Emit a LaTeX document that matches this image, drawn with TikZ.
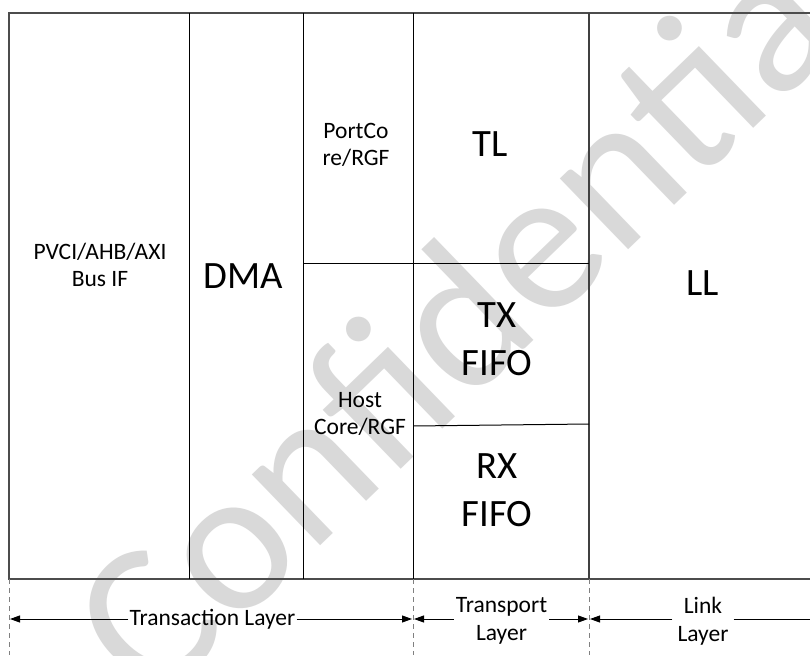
\documentclass[tikz,border=0pt]{standalone}
\usepackage{fontspec}
\setmainfont{Carlito}
\usetikzlibrary{arrows.meta}
\begin{document}
\begin{tikzpicture}[x=1pt,y=-1pt,
  inner/.style={line width=1pt,black},
  outer/.style={line width=1.4pt,black!70},
  mid/.style={line width=1.6pt,black!75},
  dashline/.style={line width=1pt,black!50,dash pattern=on 5pt off 4pt},
  arr/.style={line width=0.9pt,black,-{Triangle[length=10pt,width=7pt]}},
  sm/.style={font=\fontsize{23.5}{27.5}\selectfont,align=center,inner sep=0pt},
  lg/.style={font=\fontsize{38.7}{48}\selectfont,align=center,inner sep=0pt},
  lab/.style={font=\fontsize{23.5}{27.5}\selectfont,align=center,inner ysep=0pt}]
\useasboundingbox (0,0) rectangle (810,655);
\fill[white] (0,0) rectangle (810,655);
% watermark
\node[rotate=44,anchor=base,text=black!15,font=\fontsize{206}{206}\selectfont,inner sep=0pt] (wm) at (518,356) {Confidential};
% frame and columns
\draw[outer] (830,13) -- (9,13) -- (9,579) -- (830,579);
\draw[inner] (189,13) -- (189,579);
\draw[inner] (303,13) -- (303,579);
\draw[inner] (413,13) -- (413,579);
\draw[mid] (589,13) -- (589,579);
\draw[inner] (303,263) -- (589,263);
\draw[inner] (413,426) -- (589,424);
% dashed extensions
\draw[dashline] (9,579) -- (9,655);
\draw[dashline] (413,579) -- (413,655);
\draw[dashline] (589,579) -- (589,655);
% block labels
\node[sm] (pvci) at (100,265) {PVCI/AHB/AXI\\Bus IF};
\node[lg] (dma) at (243,276) {DMA};
\node[sm] (port) at (356,145) {PortCo\\re/RGF};
\node[lg] (tl) at (490,144) {TL};
\node[lg] (tx) at (497,339) {TX\\FIFO};
\node[lg] (rx) at (497,490) {RX\\FIFO};
\node[sm] (host) at (360,414) {Host\\Core/RGF};
\node[lg] (ll) at (703,283) {LL};
% layer arrows
\coordinate (a0) at (10,619);
\coordinate (a1) at (412,619);
\coordinate (b0) at (414,619);
\coordinate (b1) at (588,619);
\coordinate (c0) at (590,619);
\coordinate (c1) at (820,619);
\node[lab,inner xsep=1pt] (trans) at (212.5,619) {Transaction Layer};
\node[lab,inner xsep=2pt] (tp) at (501.5,621) {Transport\\Layer};
\node[lab,inner xsep=5pt] (lk) at (703,621) {Link\\Layer};
\draw[arr] (trans.west |- a0) -- (a0);
\draw[arr] (trans.east |- a1) -- (a1);
\draw[arr] (tp.west |- b0) -- (b0);
\draw[arr] (tp.east |- b1) -- (b1);
\draw[arr] (lk.west |- c0) -- (c0);
\draw[arr] (lk.east |- c1) -- (c1);
\end{tikzpicture}
\end{document}
